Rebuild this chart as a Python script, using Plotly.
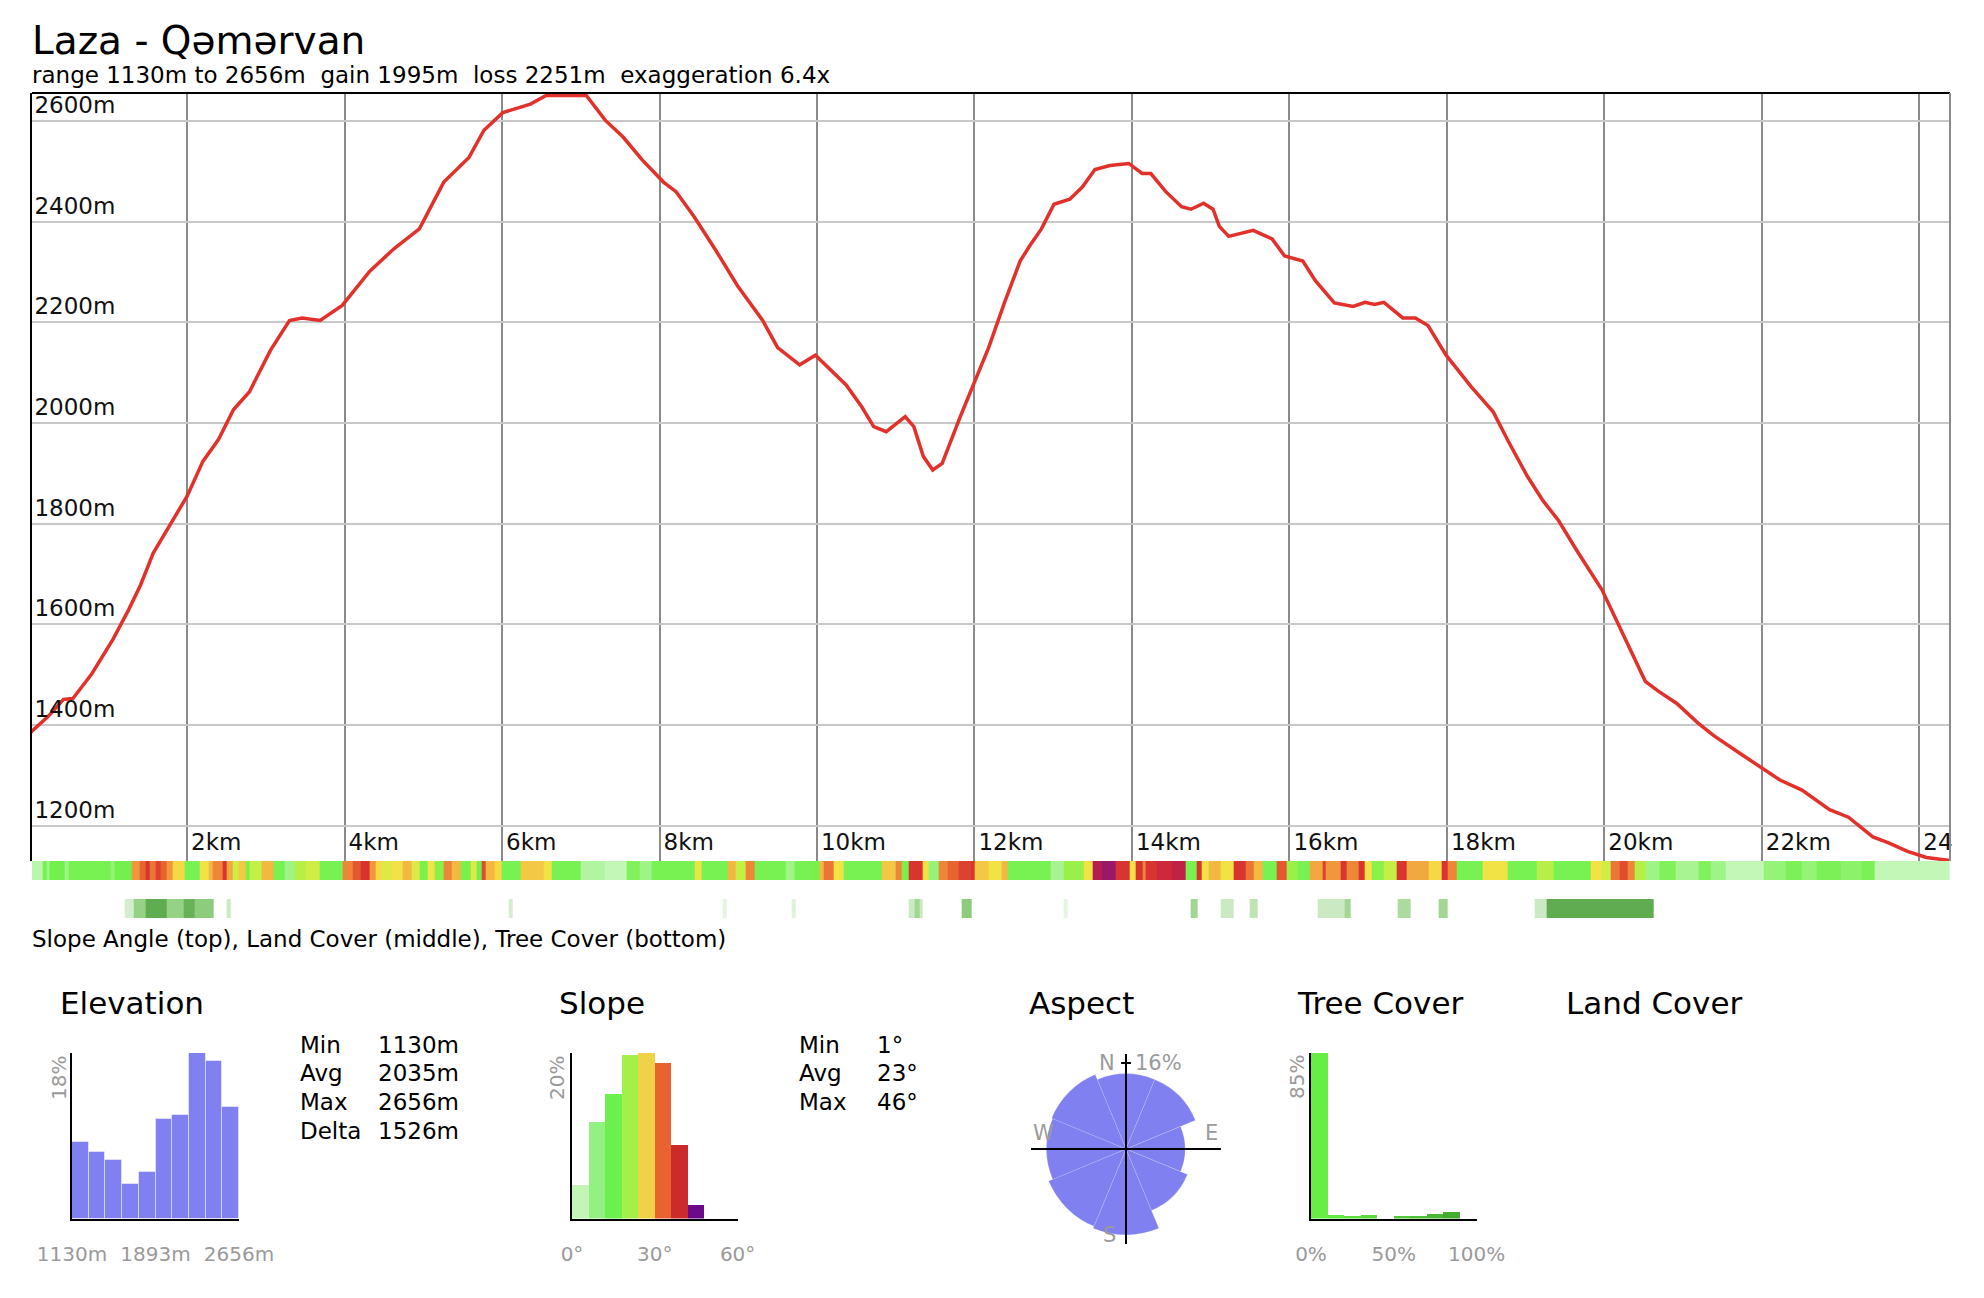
import plotly.graph_objects as go

W, H = 1984, 1298
def px(x): return x / W
def py(y): return 1 - y / H

FONT = "DejaVu Sans"
GRAY = "#9a9a9a"

# ---------------- data ----------------
TITLE = "Laza - Qəmərvan"
SUBTITLE = "range 1130m to 2656m  gain 1995m  loss 2251m  exaggeration 6.4x"
CAPTION = "Slope Angle (top), Land Cover (middle), Tree Cover (bottom)"

DIST_KM = [0.0, 0.24, 0.43, 0.55, 0.79, 1.06, 1.26, 1.41, 1.57, 1.77, 2.0, 2.2, 2.4, 2.59, 2.79,
           3.06, 3.3, 3.46, 3.69, 3.97, 4.32, 4.63, 4.95, 5.26, 5.58, 5.77, 6.01, 6.36, 6.56,
           7.07, 7.31, 7.54, 7.78, 8.05, 8.21, 8.44, 8.72, 8.99, 9.31, 9.5, 9.78, 9.98, 10.17,
           10.37, 10.57, 10.72, 10.88, 11.12, 11.23, 11.35, 11.47, 11.59, 11.82, 12.02, 12.18,
           12.38, 12.58, 12.7, 12.85, 13.01, 13.21, 13.37, 13.53, 13.72, 13.96, 14.13, 14.24,
           14.43, 14.63, 14.75, 14.91, 15.03, 15.11, 15.23, 15.54, 15.78, 15.94, 16.17, 16.33,
           16.57, 16.81, 16.96, 17.08, 17.2, 17.44, 17.6, 17.76, 17.99, 18.31, 18.59, 18.78,
           19.02, 19.22, 19.42, 19.65, 19.97, 20.21, 20.36, 20.52, 20.68, 20.92, 21.19, 21.39,
           21.71, 22.03, 22.23, 22.51, 22.86, 23.1, 23.41, 23.61, 23.85, 24.09, 24.25, 24.39]
ELEV_M = [1384, 1418, 1451, 1453, 1502, 1571, 1630, 1679, 1742, 1796, 1855, 1924, 1968, 2027, 2062,
          2145, 2204, 2209, 2204, 2234, 2302, 2347, 2386, 2479, 2528, 2582, 2617, 2634, 2651,
          2651, 2602, 2568, 2523, 2479, 2460, 2410, 2342, 2273, 2204, 2150, 2116, 2135, 2106,
          2076, 2032, 1993, 1983, 2013, 1993, 1934, 1907, 1920, 2013, 2091, 2150,
          2239, 2322, 2352, 2386, 2435, 2445, 2469, 2504, 2512, 2516, 2496, 2496,
          2460, 2430, 2425, 2437, 2425, 2391, 2371, 2383, 2366, 2332, 2322, 2283,
          2239, 2232, 2240, 2236, 2240, 2209, 2209, 2194, 2135, 2072, 2022, 1964,
          1895, 1846, 1806, 1747, 1669, 1590, 1541, 1487, 1468, 1443, 1404, 1379,
          1345, 1311, 1291, 1271, 1232, 1217, 1178, 1166, 1149, 1137, 1133, 1131]

X_TICKS_KM = [2, 4, 6, 8, 10, 12, 14, 16, 18, 20, 22, 24]
# the last label is clipped at the plot edge in the original, so only "24" shows
X_TICK_TEXT = ["2km", "4km", "6km", "8km", "10km", "12km", "14km", "16km", "18km", "20km", "22km", "24"]
Y_TICKS_M = [1200, 1400, 1600, 1800, 2000, 2200, 2400, 2600]
Y_TICK_TEXT = ["1200m", "1400m", "1600m", "1800m", "2000m", "2200m", "2400m", "2600m"]

# slope strip: segment edges (km) and slope angle (deg) per segment
SLOPE_EDGES_KM = [0.00, 0.16, 0.21, 0.26, 0.45, 0.50, 1.03, 1.08, 1.29, 1.40, 1.47, 1.53, 1.60, 1.66,
                  1.74, 1.82, 1.97, 2.16, 2.27, 2.32, 2.45, 2.50, 2.58, 2.66, 2.74, 2.79, 2.95, 3.10,
                  3.24, 3.37, 3.50, 3.68, 3.97, 4.10, 4.21, 4.32, 4.40, 4.47, 4.60, 4.74, 4.85, 4.95,
                  5.05, 5.15, 5.26, 5.36, 5.47, 5.60, 5.68, 5.74, 5.79, 5.90, 6.00, 6.24, 6.53, 6.63,
                  7.00, 7.30, 7.58, 7.75, 7.90, 8.45, 8.53, 8.87, 8.97, 9.10, 9.21, 9.60, 9.71, 9.92,
                  10.03, 10.08, 10.21, 10.34, 10.82, 11.00, 11.08, 11.16, 11.34, 11.42, 11.55, 11.66,
                  11.80, 11.95, 12.00, 12.18, 12.34, 12.42, 12.97, 13.13, 13.39, 13.50, 13.61, 13.79,
                  13.97, 14.05, 14.13, 14.18, 14.32, 14.50, 14.68, 14.82, 14.89, 14.97, 15.13, 15.29,
                  15.45, 15.55, 15.66, 15.84, 15.97, 16.10, 16.26, 16.42, 16.46, 16.65, 16.73, 16.88,
                  16.96, 17.04, 17.20, 17.36, 17.49, 17.77, 17.93, 18.01, 18.12, 18.46, 18.77, 19.14,
                  19.35, 19.82, 19.97, 20.08, 20.20, 20.30, 20.39, 20.52, 20.70, 20.90, 21.20, 21.35,
                  21.54, 22.02, 22.30, 22.50, 22.70, 23.00, 23.27, 23.43, 24.39]
SLOPE_DEG = [5, 14, 8, 15, 8, 14, 9, 15, 31, 34, 38, 33, 37, 34,
             31, 27, 14, 26, 29, 32, 38, 30, 22, 28, 16, 21, 29, 14,
             8, 20, 22, 14, 32, 35, 38, 31, 27, 24, 26, 29, 24, 16,
             26, 17, 32, 29, 16, 24, 15, 36, 29, 27, 14, 28, 26, 14,
             6, 4, 12, 8, 14, 25, 14, 29, 21, 32, 14, 8, 14, 16,
             29, 33, 26, 14, 28, 32, 16, 38, 26, 9, 32, 34,
             37, 38, 28, 26, 29, 14, 7, 18, 26, 43, 45, 38,
             26, 38, 32, 38, 40, 42, 14, 38, 26, 29, 26, 38,
             33, 29, 14, 35, 18, 14, 30, 37, 31, 38, 32, 38,
             26, 17, 21, 38, 30, 27, 38, 32, 14, 26, 14, 20,
             14, 26, 22, 33, 36, 32, 20, 8, 12, 7, 12, 8,
             4, 9, 13, 9, 13, 10, 13, 4]

# tree cover strip: segment edges (km) and tree cover (%)
TREE_EDGES_KM = [0.00, 1.21, 1.32, 1.47, 1.74, 1.95, 2.10, 2.34, 2.50, 2.55, 6.08, 6.13, 8.80, 8.85,
                 9.68, 9.73, 11.16, 11.24, 11.30, 11.34, 11.84, 11.97, 13.13, 13.18, 14.74, 14.84,
                 15.13, 15.29, 15.50, 15.60, 16.36, 16.70, 16.78, 17.38, 17.54, 17.90, 18.01, 19.11,
                 19.27, 20.63, 24.39]
TREE_PCT = [0, 20, 50, 80, 50, 75, 55, 0, 25, 0, 20, 0, 12, 0,
            15, 0, 25, 45, 25, 0, 55, 0, 12, 0, 45, 0,
            25, 0, 30, 0, 25, 45, 0, 40, 0, 45, 0, 25,
            80, 0]

ELEV_BIN_EDGES_M = [1130, 1283, 1435, 1588, 1740, 1893, 2046, 2198, 2351, 2503, 2656]
ELEV_HIST_PCT = [8.3, 7.2, 6.4, 3.8, 5.1, 10.8, 11.3, 18.0, 17.1, 12.1]
ELEV_STATS_LABELS = ["Min", "Avg", "Max", "Delta"]
ELEV_STATS_VALUES = ["1130m", "2035m", "2656m", "1526m"]

SLOPE_BIN_EDGES_DEG = [0, 6, 12, 18, 24, 30, 36, 42, 48]
SLOPE_HIST_PCT = [4.0, 11.7, 15.1, 19.8, 20.0, 18.8, 8.9, 1.7]
SLOPE_BIN_COLORS = ["#c2f5b6", "#92f182", "#6cf04e", "#a4ef4a", "#f0d249", "#e8632f", "#cc2b2b", "#6c0a8c"]
SLOPE_STATS_LABELS = ["Min", "Avg", "Max"]
SLOPE_STATS_VALUES = ["1°", "23°", "46°"]

ASPECT_DIR_DEG = [0, 45, 90, 135, 180, 225, 270, 315]
ASPECT_PCT = [14.0, 14.0, 11.0, 12.4, 16.0, 15.6, 14.8, 15.0]

TREE_BIN_EDGES = [0, 10, 20, 30, 40, 50, 60, 70, 80, 90, 100]
TREE_HIST_PCT = [85.0, 1.8, 1.5, 2.0, 0.0, 1.2, 1.2, 2.3, 3.6, 0.0]
TREE_BIN_COLORS = ["#66ee44", "#62e842", "#5ee040", "#5ad83e", "#56d03c", "#52c83a", "#4ec038",
                   "#4ab836", "#44aa32", "#40a030"]

# ---------------- figure ----------------
fig = go.Figure()

fig.add_trace(go.Scatter(x=DIST_KM, y=ELEV_M, mode="lines",
                         line=dict(color="#e2312b", width=3.5), xaxis="x", yaxis="y",
                         hoverinfo="skip"))

slope_cs = [[0.0, "#e2fade"], [0.10, "#bdf6b0"], [0.22, "#86f262"], [0.32, "#72f04c"],
            [0.44, "#c6f046"], [0.55, "#f4e246"], [0.63, "#f2a440"], [0.71, "#e8632f"],
            [0.80, "#d83030"], [0.88, "#c02048"], [1.0, "#70108a"]]
fig.add_trace(go.Heatmap(x=SLOPE_EDGES_KM, y=[0, 1], z=[SLOPE_DEG], zmin=0, zmax=48,
                         colorscale=slope_cs, showscale=False, xaxis="x2", yaxis="y2",
                         hoverinfo="skip"))
tree_cs = [[0.0, "#ffffff"], [0.5, "#96d286"], [1.0, "#3c922c"]]
fig.add_trace(go.Heatmap(x=TREE_EDGES_KM, y=[0, 1], z=[TREE_PCT], zmin=0, zmax=100,
                         colorscale=tree_cs, showscale=False, xaxis="x3", yaxis="y3",
                         hoverinfo="skip"))

ec = [(a + b) / 2 for a, b in zip(ELEV_BIN_EDGES_M[:-1], ELEV_BIN_EDGES_M[1:])]
ew = [b - a for a, b in zip(ELEV_BIN_EDGES_M[:-1], ELEV_BIN_EDGES_M[1:])]
fig.add_trace(go.Bar(x=ec, y=ELEV_HIST_PCT, width=ew, marker=dict(color="#8080f0",
                     line=dict(color="rgba(255,255,255,0.45)", width=1)), xaxis="x4", yaxis="y4"))
sc = [(a + b) / 2 for a, b in zip(SLOPE_BIN_EDGES_DEG[:-1], SLOPE_BIN_EDGES_DEG[1:])]
sw = [b - a for a, b in zip(SLOPE_BIN_EDGES_DEG[:-1], SLOPE_BIN_EDGES_DEG[1:])]
fig.add_trace(go.Bar(x=sc, y=SLOPE_HIST_PCT, width=sw, marker=dict(color=SLOPE_BIN_COLORS, line=dict(width=0)),
                     xaxis="x5", yaxis="y5"))
tc = [(a + b) / 2 for a, b in zip(TREE_BIN_EDGES[:-1], TREE_BIN_EDGES[1:])]
tw = [b - a for a, b in zip(TREE_BIN_EDGES[:-1], TREE_BIN_EDGES[1:])]
fig.add_trace(go.Bar(x=tc, y=TREE_HIST_PCT, width=tw, marker=dict(color=TREE_BIN_COLORS, line=dict(width=0)),
                     xaxis="x6", yaxis="y6"))

RMAX = 17.7
fig.add_trace(go.Barpolar(r=ASPECT_PCT, theta=ASPECT_DIR_DEG, width=[45] * 8,
                          marker=dict(color="#8080f0", line=dict(color="rgba(255,255,255,0.15)", width=1)),
                          subplot="polar"))
fig.add_trace(go.Scatterpolar(r=[RMAX, RMAX], theta=[0, 180], mode="lines",
                              line=dict(color="black", width=2), subplot="polar"))
fig.add_trace(go.Scatterpolar(r=[RMAX, RMAX], theta=[90, 270], mode="lines",
                              line=dict(color="black", width=2), subplot="polar"))
fig.add_trace(go.Scatterpolar(r=[16.03, 16.03], theta=[-3.3, 3.3], mode="lines",
                              line=dict(color="black", width=2), subplot="polar"))

MAIN_X = [px(32), px(1950)]
hist_y_dom = [py(1218.6), py(1053)]
HIST_TICK_FONT = dict(size=20, color=GRAY, family=FONT)

fig.update_layout(
    width=W, height=H, margin=dict(l=0, r=0, t=0, b=0, pad=0, autoexpand=False),
    paper_bgcolor="white", plot_bgcolor="white", showlegend=False,
    font=dict(family=FONT, color="black"),
    bargap=0,
    xaxis=dict(domain=MAIN_X, range=[0.03, 24.39], anchor="y", tickmode="array", automargin=False,
               tickvals=X_TICKS_KM, ticktext=X_TICK_TEXT, ticklabelposition="inside right",
               ticklabeloverflow="allow", ticks="", showline=False, zeroline=False,
               ticklabelshift=4,
               showgrid=True, gridcolor="#8a8a8a", gridwidth=2,
               tickfont=dict(size=23, color="#111", family=FONT)),
    yaxis=dict(domain=[py(861), py(93)], range=[1130, 2656], anchor="x", tickmode="array", automargin=False,
               tickvals=Y_TICKS_M, ticktext=Y_TICK_TEXT, ticklabelposition="inside top",
               ticklabeloverflow="allow",
               ticks="", showline=True, linecolor="black", linewidth=2, zeroline=False,
               ticklabelstandoff=3,
               showgrid=True, gridcolor="#c8c8c8", gridwidth=2,
               tickfont=dict(size=23, color="#111", family=FONT)),
    xaxis2=dict(domain=MAIN_X, range=[0.03, 24.39], anchor="y2", visible=False, automargin=False),
    yaxis2=dict(domain=[py(880), py(861)], range=[0, 1], anchor="x2", visible=False, automargin=False),
    xaxis3=dict(domain=MAIN_X, range=[0.03, 24.39], anchor="y3", visible=False, automargin=False),
    yaxis3=dict(domain=[py(918), py(899)], range=[0, 1], anchor="x3", visible=False, automargin=False),
    xaxis4=dict(domain=[px(72), px(239)], range=[1130, 2656], anchor="y4", tickmode="array", automargin=False,
                tickvals=[1130, 1893, 2656], ticktext=["1130m", "1893m", "2656m"], ticks="",
                showline=True, linecolor="black", linewidth=2, showgrid=False, zeroline=False,
                ticklabelstandoff=16, tickfont=HIST_TICK_FONT),
    yaxis4=dict(domain=hist_y_dom, range=[0, 18], anchor="x4", showline=True, linecolor="black", automargin=False,
                linewidth=2, showgrid=False, zeroline=False, showticklabels=False, ticks=""),
    xaxis5=dict(domain=[px(572), px(737.6)], range=[0, 60], anchor="y5", tickmode="array", automargin=False,
                tickvals=[0, 30, 60], ticktext=["0°", "30°", "60°"], ticks="",
                showline=True, linecolor="black", linewidth=2, showgrid=False, zeroline=False,
                ticklabelstandoff=16, tickfont=HIST_TICK_FONT),
    yaxis5=dict(domain=hist_y_dom, range=[0, 20], anchor="x5", showline=True, linecolor="black", automargin=False,
                linewidth=2, showgrid=False, zeroline=False, showticklabels=False, ticks=""),
    xaxis6=dict(domain=[px(1311), px(1476.6)], range=[0, 100], anchor="y6", tickmode="array", automargin=False,
                tickvals=[0, 50, 100], ticktext=["0%", "50%", "100%"], ticks="",
                showline=True, linecolor="black", linewidth=2, showgrid=False, zeroline=False,
                ticklabelstandoff=16, tickfont=HIST_TICK_FONT),
    yaxis6=dict(domain=hist_y_dom, range=[0, 85], anchor="x6", showline=True, linecolor="black", automargin=False,
                linewidth=2, showgrid=False, zeroline=False, showticklabels=False, ticks=""),
    polar=dict(domain=dict(x=[px(1031), px(1221)], y=[py(1244), py(1054)]),
               bgcolor="rgba(0,0,0,0)",
               radialaxis=dict(visible=False, range=[0, RMAX]),
               angularaxis=dict(visible=False, rotation=90, direction="clockwise")),
)

shapes = [
    dict(type="line", xref="paper", yref="paper", x0=px(32), x1=px(1950), y0=py(93), y1=py(93),
         line=dict(color="black", width=2)),
    dict(type="line", xref="paper", yref="paper", x0=px(1950), x1=px(1950), y0=py(861), y1=py(93),
         line=dict(color="#8a8a8a", width=2)),
]
fig.update_layout(shapes=shapes)

ann = []
def text(x, y, s, size, color="black", xanchor="left", yanchor="middle", angle=0):
    ann.append(dict(x=px(x), y=py(y), xref="paper", yref="paper", text=s, showarrow=False,
                    xanchor=xanchor, yanchor=yanchor, textangle=angle,
                    font=dict(size=size, color=color, family=FONT)))

text(30, 41, TITLE, 39)
text(30, 75, SUBTITLE, 23)
text(30, 939, CAPTION, 23)

for t, x in [("Elevation", 58), ("Slope", 557), ("Aspect", 1027), ("Tree Cover", 1295), ("Land Cover", 1564)]:
    text(x, 1003, t, 31)

rows = [1045, 1073, 1102, 1131]
for lab, val, y in zip(ELEV_STATS_LABELS, ELEV_STATS_VALUES, rows):
    text(298, y, lab, 23)
    text(376, y, val, 23)
for lab, val, y in zip(SLOPE_STATS_LABELS, SLOPE_STATS_VALUES, rows):
    text(797, y, lab, 23)
    text(875, y, val, 23)

text(59, 1054, "18%", 20, GRAY, xanchor="center", yanchor="top", angle=-90)
text(557, 1054, "20%", 20, GRAY, xanchor="center", yanchor="top", angle=-90)
text(1297, 1053, "85%", 20, GRAY, xanchor="center", yanchor="top", angle=-90)

text(1117, 1063, "N", 21, GRAY, xanchor="right")
text(1133, 1063, "16%", 21, GRAY, xanchor="left")
text(1043, 1133, "W", 21, GRAY, xanchor="center")
text(1211, 1133, "E", 21, GRAY, xanchor="center")
text(1109, 1235, "S", 21, GRAY, xanchor="center")

fig.update_layout(annotations=ann)

fig.write_html("out.html")
